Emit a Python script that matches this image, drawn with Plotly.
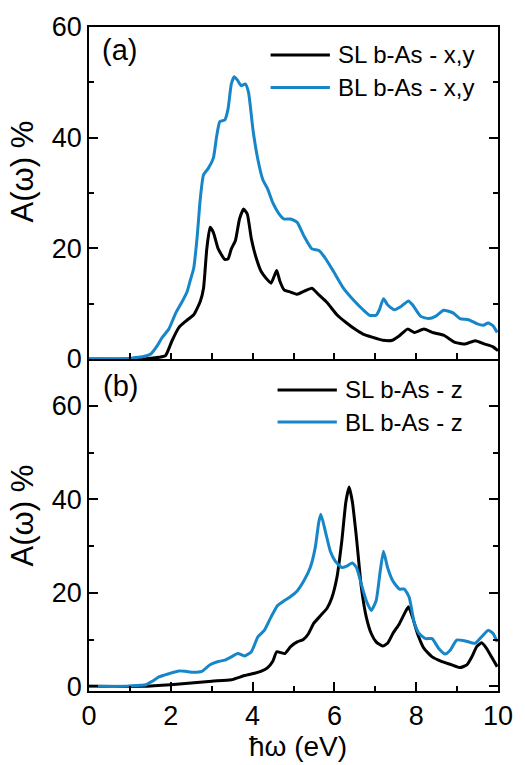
import plotly.graph_objects as go

# ---- data ----
x_sl_xy = [0, 1.0, 1.39, 1.71, 1.87, 2.03, 2.2, 2.36, 2.56, 2.72, 2.8, 2.88, 2.96, 3.04, 3.16, 3.32, 3.4,
           3.48, 3.58, 3.68, 3.78, 3.87, 3.97, 4.09, 4.21, 4.33, 4.45, 4.53, 4.59, 4.67, 4.77, 4.93,
           5.09, 5.25, 5.45, 5.62, 5.82, 6.06, 6.3, 6.5, 6.7, 6.94, 7.18, 7.42, 7.59, 7.79, 7.95,
           8.19, 8.39, 8.67, 8.95, 9.2, 9.44, 9.68, 9.88, 10.0]
y_sl_xy = [0, 0, 0.05, 0.3, 0.6, 3.3, 5.7, 6.8, 8.0, 10.4, 12.8, 19.9, 23.8, 22.9, 19.9, 18.0, 18.1,
           19.9, 21.4, 25.3, 27.1, 26.2, 21.7, 18.2, 15.8, 14.6, 13.7, 15.0, 16.0, 14.0, 12.5, 12.1,
           11.7, 12.2, 12.8, 11.6, 10.2, 8.0, 6.5, 5.4, 4.5, 3.9, 3.4, 3.4, 4.2, 5.4, 4.8,
           5.4, 4.8, 4.3, 3.0, 2.7, 3.3, 2.7, 2.2, 1.5]

x_bl_xy = [0, 0.9, 1.07, 1.31, 1.51, 1.67, 1.79, 1.95, 2.12, 2.28, 2.4, 2.48, 2.56, 2.64, 2.72, 2.8, 2.92,
           3.04, 3.12, 3.2, 3.32, 3.4, 3.48, 3.55, 3.63, 3.72, 3.82, 3.9, 4.01, 4.13, 4.25, 4.37,
           4.49, 4.65, 4.77, 4.93, 5.09, 5.25, 5.45, 5.62, 5.78, 5.98, 6.22, 6.46, 6.7, 6.86,
           7.02, 7.1, 7.2, 7.3, 7.46, 7.63, 7.81, 7.91, 8.11, 8.31, 8.47, 8.67, 8.91, 9.07,
           9.28, 9.48, 9.64, 9.76, 9.88, 9.98]
y_bl_xy = [0, 0, 0.2, 0.4, 0.9, 2.4, 3.9, 5.4, 8.3, 10.4, 12.2, 14.3, 16.4, 21.7, 28.9, 33.3, 34.5,
           36.3, 40.2, 42.9, 43.2, 45.2, 49.7, 51.0, 50.4, 49.4, 49.7, 48.2, 41.4, 36.0, 32.4, 30.7,
           28.3, 26.2, 25.3, 25.3, 24.7, 22.3, 19.9, 19.6, 18.2, 15.8, 12.8, 10.7, 8.9, 7.9,
           7.9, 8.9, 10.9, 9.8, 8.9, 9.5, 10.5, 9.8, 7.7, 7.3, 7.7, 8.8, 8.3, 7.3,
           7.1, 6.4, 6.1, 6.5, 6.0, 4.8]

x_sl_z = [0, 1.3, 2.0, 3.0, 3.48, 3.8, 4.05, 4.2, 4.37, 4.49, 4.59, 4.69, 4.79, 4.93, 5.09, 5.24, 5.37,
          5.49, 5.66, 5.82, 5.94, 6.06, 6.18, 6.28, 6.36, 6.44, 6.54, 6.66, 6.78, 6.9, 7.02, 7.18,
          7.3, 7.43, 7.59, 7.71, 7.81, 7.91, 8.03, 8.19, 8.39, 8.63, 8.87, 9.07, 9.24, 9.36, 9.48,
          9.6, 9.72, 9.84, 9.98]
y_sl_z = [0, 0, 0.35, 1.1, 1.4, 2.3, 2.8, 3.2, 4.0, 5.3, 7.4, 7.2, 7.0, 8.5, 9.5, 10.0, 11.3,
          13.4, 15.1, 16.7, 19.0, 23.2, 31.0, 39.4, 42.6, 39.4, 31.7, 21.1, 14.8, 11.3, 9.5, 8.6,
          9.2, 11.3, 13.4, 15.5, 17.0, 14.8, 11.3, 8.1, 6.3, 5.3, 4.6, 4.0, 4.6, 6.3, 8.5,
          9.3, 8.1, 6.3, 4.2]

x_bl_z = [0, 0.9, 1.2, 1.39, 1.55, 1.71, 1.95, 2.2, 2.36, 2.56, 2.76, 2.96, 3.16, 3.32, 3.48, 3.64, 3.8,
          3.97, 4.13, 4.29, 4.45, 4.61, 4.77, 4.93, 5.09, 5.25, 5.41, 5.53, 5.62, 5.67, 5.78, 5.9,
          6.02, 6.18, 6.3, 6.44, 6.54, 6.66, 6.78, 6.9, 7.02, 7.12, 7.2, 7.3, 7.43, 7.59, 7.71,
          7.83, 7.95, 8.07, 8.23, 8.39, 8.55, 8.71, 8.83, 8.99, 9.2, 9.44, 9.6, 9.76, 9.88, 9.98]
y_bl_z = [0, 0, 0.2, 0.35, 1.1, 2.0, 2.7, 3.3, 3.2, 3.0, 3.2, 4.6, 5.3, 5.6, 6.3, 7.0, 6.5,
          7.4, 10.6, 12.0, 14.8, 17.3, 18.3, 19.2, 20.4, 22.5, 25.4, 29.6, 35.2, 36.8, 33.1, 28.9,
          26.8, 25.4, 25.7, 26.4, 25.4, 21.8, 18.3, 16.2, 18.3, 24.6, 28.9, 25.4, 22.5, 20.8, 20.8,
          19.0, 13.7, 11.3, 10.2, 10.2, 8.1, 6.9, 7.7, 9.9, 9.7, 9.2, 10.6, 12.0, 11.3, 9.5]

labels_top = ["SL b-As - x,y", "BL b-As - x,y"]
labels_bot = ["SL b-As - z", "BL b-As - z"]
x_ticks = [0, 2, 4, 6, 8, 10]
y_ticks = [0, 20, 40, 60]

BLACK = "#000000"
BLUE = "#1686c8"
FONT = "Liberation Sans, Arial, sans-serif"

fig = go.Figure()
fig.add_trace(go.Scatter(x=x_sl_xy, y=y_sl_xy, mode="lines", line=dict(color=BLACK, width=3, shape="spline", smoothing=0.5),
                         xaxis="x", yaxis="y", showlegend=False))
fig.add_trace(go.Scatter(x=x_bl_xy, y=y_bl_xy, mode="lines", line=dict(color=BLUE, width=3, shape="spline", smoothing=0.5),
                         xaxis="x", yaxis="y", showlegend=False))
fig.add_trace(go.Scatter(x=x_sl_z, y=y_sl_z, mode="lines", line=dict(color=BLACK, width=3, shape="spline", smoothing=0.5),
                         xaxis="x2", yaxis="y2", showlegend=False))
fig.add_trace(go.Scatter(x=x_bl_z, y=y_bl_z, mode="lines", line=dict(color=BLUE, width=3, shape="spline", smoothing=0.5),
                         xaxis="x2", yaxis="y2", showlegend=False))

axis_common = dict(showline=True, linecolor="black", linewidth=1.5, ticks="inside",
                   tickcolor="black", tickwidth=1.5, showgrid=False, zeroline=False,
                   tickfont=dict(family=FONT, size=27, color="black"))

fig.update_layout(
    width=525, height=765,
    margin=dict(l=89, r=22, t=20, b=74),
    plot_bgcolor="white", paper_bgcolor="white",
    xaxis=dict(domain=[0, 1], anchor="y", range=[0, 10], dtick=1, ticklen=6,
               showticklabels=False, mirror=True, **axis_common),
    yaxis=dict(domain=[0.5, 1], anchor="x", range=[0, 60], tickvals=y_ticks, ticklen=9,
               mirror="ticks", minor=dict(dtick=10, ticklen=5, ticks="inside", tickcolor="black", tickwidth=1.5),
               **axis_common),
    xaxis2=dict(domain=[0, 1], anchor="y2", range=[0, 10], tickvals=x_ticks, ticklen=9,
                minor=dict(dtick=1, ticklen=5, ticks="inside", tickcolor="black", tickwidth=1.5),
                mirror=False, **axis_common),
    yaxis2=dict(domain=[0, 0.5], anchor="x2", range=[-1, 70], tickvals=y_ticks, ticklen=9,
                mirror="ticks", minor=dict(dtick=10, ticklen=5, ticks="inside", tickcolor="black", tickwidth=1.5),
                **axis_common),
)

ann = []
tfont = dict(family=FONT, size=31, color="black")
# axis titles
ann.append(dict(text="A(ω) %", xref="paper", yref="paper", x=-0.162, y=0.782, textangle=-90,
                showarrow=False, xanchor="center", yanchor="middle", font=tfont))
ann.append(dict(text="A(ω) %", xref="paper", yref="paper", x=-0.162, y=0.264, textangle=-90,
                showarrow=False, xanchor="center", yanchor="middle", font=tfont))
ann.append(dict(text="ħω (eV)", xref="paper", yref="paper", x=0.51, y=-0.108, borderpad=0,
                showarrow=False, xanchor="center", yanchor="bottom", font=dict(family=FONT, size=28, color="black")))
# panel labels
pfont = dict(family=FONT, size=29, color="black")
ann.append(dict(text="(a)", xref="paper", yref="paper", x=0.026, y=0.966, showarrow=False,
                xanchor="left", yanchor="middle", font=pfont))
ann.append(dict(text="(b)", xref="paper", yref="paper", x=0.029, y=0.459, showarrow=False,
                xanchor="left", yanchor="middle", font=pfont))

# manual legends
lfont = dict(family=FONT, size=24, color="black")
shapes = []
legend_specs = [
    (labels_top[0], BLACK, 0.444, 0.589, 0.604, 0.958),
    (labels_top[1], BLUE, 0.444, 0.589, 0.604, 0.909),
    (labels_bot[0], BLACK, 0.461, 0.606, 0.621, 0.4535),
    (labels_bot[1], BLUE, 0.461, 0.606, 0.621, 0.405),
]
for text, col, x0, x1, xt, yy in legend_specs:
    shapes.append(dict(type="line", xref="paper", yref="paper", x0=x0, x1=x1, y0=yy, y1=yy,
                       line=dict(color=col, width=3)))
    ann.append(dict(text=text, xref="paper", yref="paper", x=xt, y=yy, showarrow=False,
                    xanchor="left", yanchor="middle", font=lfont))

fig.update_layout(annotations=ann, shapes=shapes)
fig.write_html("out.html")
